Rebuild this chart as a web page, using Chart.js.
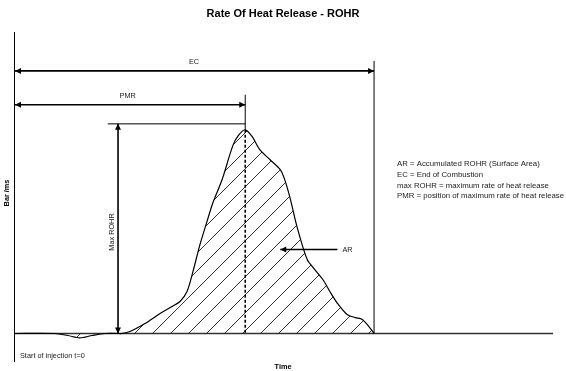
<!DOCTYPE html>
<html>
<head>
<meta charset="utf-8">
<script src="https://cdn.jsdelivr.net/npm/chart.js@4/dist/chart.umd.min.js"></script>
<style>
  body { margin: 0; background: #fff; }
  canvas { display: block; }
</style>
</head>
<body>
<canvas id="chart" width="566" height="371"></canvas>
<script>
// ROHR trace (time in % of axis, rate in % of peak)
var timeVals = [0, 7.6, 10.0, 12.2, 14.5, 16.9, 19.3, 20.0, 21.5, 24.3, 27.1, 29.3, 30.8, 32.1,
  33.2, 34.5, 35.8, 36.9, 38.6, 40.6, 41.6, 42.9, 44.2, 45.6, 47.5, 49.4, 50.1, 51.2, 52.5,
  54.4, 55.8, 57.3, 58.6, 59.9, 61.8, 63.3, 64.6, 65.7, 66.8];
var rohrVals = [0, 0, -1, -2.2, -1, 0, 0, 0, 1, 4.9, 9.8, 13.2, 15.7, 20.6,
  30.4, 43.6, 54.9, 64.2, 75.5, 92.2, 97.1, 100, 96.6, 90.2, 85.3, 80.4, 76.5, 66.7, 52.5,
  36.3, 31.4, 26.5, 20.6, 15.2, 9.3, 7.8, 6.9, 3.9, 0];
var axisTime = [0, 100];
var axisRohr = [0, 0];

var ecTime = 66.8;    // end of combustion
var pmrTime = 42.9;   // position of max rate
var peakRohr = 100;   // max ROHR
var arTime = [49.4, 60.0];
var arLevel = 41.2;

var legendLines = [
  'AR = Accumulated ROHR (Surface Area)',
  'EC = End of Combustion',
  'max ROHR = maximum rate of heat release',
  'PMR = position of maximum rate of heat release'
];

var FONT = '"Liberation Sans", Arial, sans-serif';

function hatch() {
  var c = document.createElement('canvas');
  c.width = 18; c.height = 18;
  var g = c.getContext('2d');
  g.strokeStyle = '#000';
  g.lineWidth = 0.8;
  g.beginPath();
  g.moveTo(0, 18); g.lineTo(18, 0);
  g.moveTo(-2, 2); g.lineTo(2, -2);
  g.moveTo(16, 20); g.lineTo(20, 16);
  g.stroke();
  return g.createPattern(c, 'repeat');
}

function head(ctx, x, y, dx, dy) {
  // filled arrow head pointing along (dx, dy)
  var len = 6, w = 3;
  ctx.beginPath();
  ctx.moveTo(x, y);
  ctx.lineTo(x - dx * len - dy * w, y - dy * len + dx * w);
  ctx.lineTo(x - dx * len + dy * w, y - dy * len - dx * w);
  ctx.closePath();
  ctx.fill();
}

function hArrow(ctx, x1, x2, y, both) {
  ctx.beginPath();
  ctx.moveTo(x1, y); ctx.lineTo(x2, y);
  ctx.stroke();
  head(ctx, x1, y, -1, 0);
  if (both) head(ctx, x2, y, 1, 0);
}

var annotations = {
  id: 'annotations',
  beforeDraw: function(chart) {
    var ctx = chart.ctx;
    ctx.save();
    ctx.fillStyle = '#fff';
    ctx.fillRect(0, 0, chart.width, chart.height);
    ctx.restore();
  },
  afterDatasetsDraw: function(chart) {
    var ctx = chart.ctx;
    var xs = chart.scales.x, ys = chart.scales.y;
    var area = chart.chartArea;
    var x0 = xs.getPixelForValue(0);
    var yBase = ys.getPixelForValue(0);
    var xEc = xs.getPixelForValue(ecTime);
    var xPmr = xs.getPixelForValue(pmrTime);
    var yPeak = ys.getPixelForValue(peakRohr);

    ctx.save();
    ctx.strokeStyle = '#000';
    ctx.fillStyle = '#000';

    // y axis line
    ctx.lineWidth = 1;
    ctx.beginPath();
    ctx.moveTo(area.left + 0.5, area.top);
    ctx.lineTo(area.left + 0.5, area.bottom);
    ctx.stroke();

    // EC marker
    ctx.beginPath();
    ctx.moveTo(xEc, ys.getPixelForValue(133.8));
    ctx.lineTo(xEc, yBase);
    ctx.stroke();
    ctx.lineWidth = 1.6;
    hArrow(ctx, x0 + 1, xEc, ys.getPixelForValue(128.9), true);

    // PMR marker
    ctx.lineWidth = 1;
    ctx.beginPath();
    ctx.moveTo(xPmr, ys.getPixelForValue(117.2));
    ctx.lineTo(xPmr, yPeak);
    ctx.stroke();
    ctx.lineWidth = 1.6;
    hArrow(ctx, x0 + 1, xPmr, ys.getPixelForValue(112.3), true);
    ctx.setLineDash([3, 2]);
    ctx.beginPath();
    ctx.moveTo(xPmr, yPeak);
    ctx.lineTo(xPmr, yBase);
    ctx.stroke();
    ctx.setLineDash([]);

    // max ROHR marker
    var yTop = ys.getPixelForValue(102.9);
    var xMax = xs.getPixelForValue(19.3);
    ctx.lineWidth = 1;
    ctx.beginPath();
    ctx.moveTo(xs.getPixelForValue(17.4), yTop);
    ctx.lineTo(xPmr, yTop);
    ctx.stroke();
    ctx.lineWidth = 1.6;
    ctx.beginPath();
    ctx.moveTo(xMax, yTop); ctx.lineTo(xMax, yBase);
    ctx.stroke();
    head(ctx, xMax, yTop, 0, -1);
    head(ctx, xMax, yBase, 0, 1);

    // AR pointer
    var yAr = ys.getPixelForValue(arLevel);
    ctx.lineWidth = 1.6;
    hArrow(ctx, xs.getPixelForValue(arTime[0]), xs.getPixelForValue(arTime[1]), yAr, false);

    // texts
    ctx.font = '7.3px ' + FONT;
    ctx.fillStyle = '#222';
    ctx.textAlign = 'center';
    ctx.textBaseline = 'middle';
    ctx.fillText('EC', (x0 + xEc) / 2, ys.getPixelForValue(133.8) + 1);
    ctx.fillText('PMR', (x0 + xPmr) / 2 - 2, ys.getPixelForValue(117.2) + 1);
    ctx.textAlign = 'left';
    ctx.fillText('AR', xs.getPixelForValue(arTime[1]) + 5, yAr);
    ctx.fillText('Start of injection t=0', x0 + 6, 356);

    ctx.save();
    ctx.translate(xMax - 6, 232);
    ctx.rotate(-Math.PI / 2);
    ctx.textAlign = 'center';
    ctx.fillText('Max ROHR', 0, 0);
    ctx.restore();

    ctx.font = '7.8px ' + FONT;
    legendLines.forEach(function(t, i) {
      ctx.fillText(t, 397, 164 + i * 10.7);
    });

    ctx.fillStyle = '#000';
    ctx.font = 'bold 7.3px ' + FONT;
    ctx.textAlign = 'center';
    ctx.fillText('Time', 283, 367);
    ctx.save();
    ctx.translate(7, 193);
    ctx.rotate(-Math.PI / 2);
    ctx.fillText('Bar /ms', 0, 0);
    ctx.restore();

    ctx.font = 'bold 11px ' + FONT;
    ctx.fillText('Rate Of Heat Release - ROHR', 283, 14);
    ctx.restore();
  }
};

var curve = timeVals.map(function(t, i) { return { x: t, y: rohrVals[i] }; });
var axis = axisTime.map(function(t, i) { return { x: t, y: axisRohr[i] }; });

new Chart(document.getElementById('chart'), {
  type: 'line',
  data: {
    datasets: [
      {
        label: 'ROHR',
        data: curve,
        borderColor: '#000',
        borderWidth: 1.2,
        backgroundColor: hatch(),
        fill: 'origin',
        pointRadius: 0,
        tension: 0.3,
        clip: false
      },
      {
        label: 'Time axis',
        data: axis,
        borderColor: '#333',
        borderWidth: 1.6,
        pointRadius: 0,
        fill: false,
        clip: false
      }
    ]
  },
  options: {
    responsive: false,
    animation: false,
    devicePixelRatio: 1,
    layout: { padding: { left: 14, right: 13, top: 32, bottom: 9 } },
    plugins: {
      legend: { display: false },
      tooltip: { enabled: false }
    },
    scales: {
      x: { type: 'linear', min: 0, max: 100, display: false },
      y: { type: 'linear', min: -14, max: 148, display: false }
    }
  },
  plugins: [annotations]
});
</script>
</body>
</html>
